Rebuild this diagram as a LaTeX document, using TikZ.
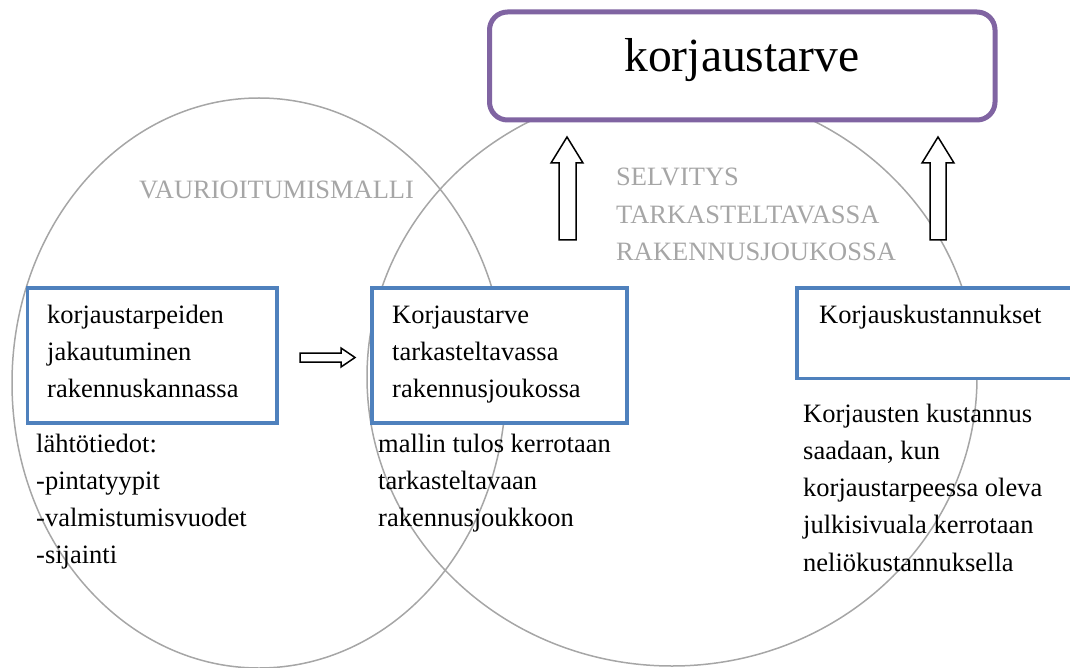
\documentclass[tikz,border=0pt]{standalone}
\usepackage{fontspec}
\setmainfont{Liberation Serif}
\usetikzlibrary{shapes.geometric}
\definecolor{ellgray}{HTML}{A6A6A6}
\definecolor{txtgray}{HTML}{A6A6A6}
\definecolor{boxblue}{HTML}{4F81BD}
\definecolor{boxpurple}{HTML}{8064A2}
\tikzset{
  ell/.style={draw=ellgray, line width=1.5pt, ellipse, inner sep=0pt},
  bluebox/.style={draw=boxblue, line width=3.5pt, fill=white, rectangle, inner sep=0pt},
  purplebox/.style={draw=boxpurple, line width=5pt, fill=white, rectangle, rounded corners=18pt, inner sep=0pt},
  txt/.style={anchor=base west, inner sep=0pt, font=\fontsize{26.5pt}{37.3pt}\selectfont},
  graytxt/.style={txt, text=txtgray},
  blockarrow/.style={draw=black, line width=1.5pt, fill=white, line join=miter},
}
\begin{document}
\begin{tikzpicture}[x=1pt,y=-1pt]
\useasboundingbox (0,0) rectangle (1070,668);
% ellipses
\node[ell, minimum width=494pt, minimum height=570pt] (leftell) at (259,383) {};
\node[ell, minimum width=610pt, minimum height=578pt] (rightell) at (672,377) {};
% top box
\node[purplebox, minimum width=505.5pt, minimum height=108pt] (top) at (742.25,66) {};
\node[anchor=base, inner sep=0pt, font=\fontsize{47.6pt}{50pt}\selectfont] (toptxt) at (742,72) {korjaustarve};
% blue boxes
\node[bluebox, minimum width=249.5pt, minimum height=135pt] (b1) at (152.25,355.5) {};
\node[bluebox, minimum width=255pt, minimum height=135pt] (b2) at (499.5,355.5) {};
\node[bluebox, minimum width=283pt, minimum height=90.5pt] (b3) at (938.5,333) {};
% box texts
\node[txt] (t1) at (47,323) {\vtop{\hbox{korjaustarpeiden}\hbox{jakautuminen}\hbox{rakennuskannassa}}};
\node[txt] (t2) at (392,323) {\vtop{\hbox{Korjaustarve}\hbox{tarkasteltavassa}\hbox{rakennusjoukossa}}};
\node[txt] (t3) at (819,323) {Korjauskustannukset};
% lower texts
\node[txt] (l1) at (36,452) {\vtop{\hbox{lähtötiedot:}\hbox{-pintatyypit}\hbox{-valmistumisvuodet}\hbox{-sijainti}}};
\node[txt] (l2) at (378,452) {\vtop{\hbox{mallin tulos kerrotaan}\hbox{tarkasteltavaan}\hbox{rakennusjoukkoon}}};
\node[txt] (l3) at (803,422) {\vtop{\hbox{Korjausten kustannus}\hbox{saadaan, kun}\hbox{korjaustarpeessa oleva}\hbox{julkisivuala kerrotaan}\hbox{neliökustannuksella}}};
% gray labels
\node[graytxt] (g1) at (139,199) {VAURIOITUMISMALLI};
\node[graytxt] (g2) at (616,186) {\vtop{\baselineskip=37.5pt\hbox{SELVITYS}\hbox{TARKASTELTAVASSA}\hbox{RAKENNUSJOUKOSSA}}};
% block arrows
\draw[blockarrow] (559,240) -- (559,163) -- (551,163) -- (567,137) -- (583,163) -- (576,163) -- (576,240) -- cycle;
\draw[blockarrow] (930,240) -- (930,163) -- (922,163) -- (938,137) -- (954,163) -- (946,163) -- (946,240) -- cycle;
\draw[blockarrow] (300,353) -- (341,353) -- (341,348) -- (355,357.5) -- (341,367) -- (341,362) -- (300,362) -- cycle;
\end{tikzpicture}
\end{document}
